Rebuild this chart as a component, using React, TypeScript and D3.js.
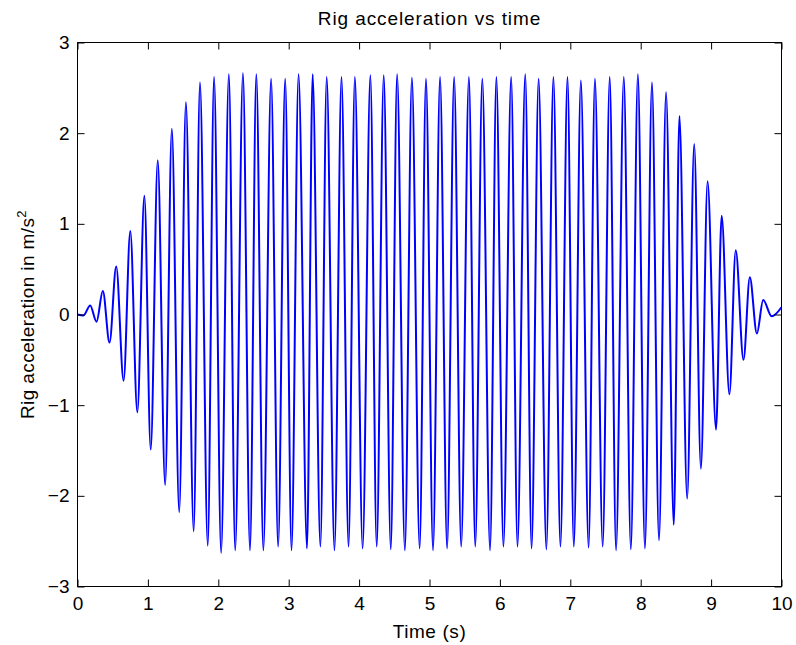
import { useEffect, useMemo, useRef } from "react";
import * as d3 from "d3";

const WIDTH = 796;
const HEIGHT = 645;
const MARGIN = { top: 42.5, right: 14.5, bottom: 58.5, left: 77.5 };

const X_TICKS = [0, 1, 2, 3, 4, 5, 6, 7, 8, 9, 10];
const Y_TICKS = [-3, -2, -1, 0, 1, 2, 3];

// start / end of the record (flat lead-in, small tail)
const edgeTimes = [0, 0.085, 10];
const edgeValues = [0, -0.01, 0.08];

// positive peaks
const peakTimes = [
  0.18, 0.36, 0.55, 0.75, 0.95, 1.14, 1.34, 1.54, 1.74, 1.94, 2.15, 2.35, 2.54,
  2.75, 2.95, 3.14, 3.34, 3.54, 3.75, 3.94, 4.16, 4.35, 4.54, 4.75, 4.95, 5.15,
  5.35, 5.56, 5.75, 5.95, 6.16, 6.36, 6.55, 6.76, 6.96, 7.15, 7.35, 7.56, 7.76,
  7.96, 8.16, 8.36, 8.55, 8.76, 8.95, 9.15, 9.35, 9.55, 9.74,
];
const peakValues = [
  0.1, 0.26, 0.53, 0.92, 1.31, 1.7, 2.05, 2.34, 2.56, 2.62, 2.65, 2.66, 2.65,
  2.6, 2.6, 2.65, 2.65, 2.62, 2.62, 2.62, 2.64, 2.64, 2.65, 2.61, 2.6, 2.62,
  2.62, 2.62, 2.6, 2.62, 2.62, 2.65, 2.6, 2.62, 2.62, 2.58, 2.6, 2.62, 2.62,
  2.65, 2.56, 2.45, 2.19, 1.88, 1.47, 1.09, 0.71, 0.41, 0.16,
];

// negative peaks
const troughTimes = [
  0.27, 0.455, 0.655, 0.85, 1.04, 1.245, 1.445, 1.65, 1.85, 2.04, 2.24, 2.45,
  2.64, 2.85, 3.04, 3.26, 3.45, 3.65, 3.85, 4.05, 4.25, 4.45, 4.65, 4.86, 5.05,
  5.25, 5.45, 5.65, 5.86, 6.05, 6.25, 6.45, 6.66, 6.86, 7.05, 7.26, 7.46, 7.65,
  7.86, 8.06, 8.26, 8.47, 8.66, 8.855, 9.07, 9.26, 9.46, 9.65, 9.86,
];
const troughValues = [
  -0.08, -0.31, -0.73, -1.08, -1.49, -1.88, -2.18, -2.39, -2.55, -2.63, -2.6,
  -2.6, -2.6, -2.56, -2.6, -2.58, -2.56, -2.6, -2.56, -2.58, -2.56, -2.59, -2.6,
  -2.58, -2.6, -2.58, -2.56, -2.56, -2.6, -2.56, -2.56, -2.58, -2.59, -2.56,
  -2.56, -2.57, -2.56, -2.6, -2.59, -2.58, -2.49, -2.32, -2.03, -1.7, -1.27,
  -0.88, -0.5, -0.21, -0.02,
];

const FONT = "'Liberation Sans', Arial, sans-serif";
const FONT_SIZE = 19;

export default function App() {
  const axesRef = useRef<SVGGElement>(null);
  const boundsWidth = WIDTH - MARGIN.left - MARGIN.right;
  const boundsHeight = HEIGHT - MARGIN.top - MARGIN.bottom;

  const xScale = useMemo(
    () => d3.scaleLinear().domain([0, 10]).range([0, boundsWidth]),
    [boundsWidth]
  );
  const yScale = useMemo(
    () => d3.scaleLinear().domain([-3, 3]).range([boundsHeight, 0]),
    [boundsHeight]
  );

  const points = useMemo(() => {
    const pts: [number, number][] = [];
    edgeTimes.forEach((t, i) => pts.push([t, edgeValues[i]]));
    peakTimes.forEach((t, i) => pts.push([t, peakValues[i]]));
    troughTimes.forEach((t, i) => pts.push([t, troughValues[i]]));
    return pts.sort((a, b) => a[0] - b[0]);
  }, []);

  const linePath = d3
    .line<[number, number]>()
    .x((d) => xScale(d[0]))
    .y((d) => yScale(d[1]))
    .curve(d3.curveMonotoneX)(points);

  useEffect(() => {
    const g = d3.select(axesRef.current);
    g.selectAll("*").remove();

    const style = (sel: any) => {
      sel.select(".domain").remove();
      sel.selectAll("line").attr("stroke", "#000");
      sel
        .selectAll("text")
        .attr("fill", "#000")
        .style("font-family", FONT)
        .style("font-size", `${FONT_SIZE}px`);
    };

    g.append("g")
      .attr("transform", `translate(0,${boundsHeight})`)
      .call(d3.axisBottom(xScale).tickValues(X_TICKS).tickSize(-7).tickPadding(10).tickFormat(d3.format("d")))
      .call(style);
    g.append("g")
      .call(d3.axisTop(xScale).tickValues(X_TICKS).tickSize(-7).tickFormat(() => ""))
      .call(style);
    g.append("g")
      .call(d3.axisLeft(yScale).tickValues(Y_TICKS).tickSize(-7).tickPadding(8).tickFormat(d3.format("d")))
      .call(style);
    g.append("g")
      .attr("transform", `translate(${boundsWidth},0)`)
      .call(d3.axisRight(yScale).tickValues(Y_TICKS).tickSize(-7).tickFormat(() => ""))
      .call(style);
  }, [xScale, yScale, boundsWidth, boundsHeight]);

  return (
    <svg
      width={WIDTH}
      height={HEIGHT}
      style={{ position: "absolute", left: 0, top: 0, background: "#fff" }}
    >
      <rect width={WIDTH} height={HEIGHT} fill="#fff" />
      <g transform={`translate(${MARGIN.left},${MARGIN.top})`}>
        <path d={linePath ?? ""} fill="none" stroke="#0000ff" strokeWidth={2} />
        <rect width={boundsWidth} height={boundsHeight} fill="none" stroke="#000" strokeWidth={1} />
      </g>
      <g ref={axesRef} transform={`translate(${MARGIN.left},${MARGIN.top})`} />
      <text
        x={MARGIN.left + boundsWidth / 2}
        y={25}
        textAnchor="middle"
        fontFamily={FONT}
        fontSize={FONT_SIZE}
        letterSpacing={0.9}
      >
        Rig acceleration vs time
      </text>
      <text
        x={MARGIN.left + boundsWidth / 2}
        y={638}
        textAnchor="middle"
        fontFamily={FONT}
        fontSize={FONT_SIZE}
        letterSpacing={0.6}
      >
        Time (s)
      </text>
      <text
        transform={`translate(34,${MARGIN.top + boundsHeight / 2}) rotate(-90)`}
        textAnchor="middle"
        fontFamily={FONT}
        fontSize={FONT_SIZE}
        letterSpacing={0.4}
      >
        Rig acceleration in m/s
        <tspan fontSize={13} dy={-8}>2</tspan>
      </text>
    </svg>
  );
}
